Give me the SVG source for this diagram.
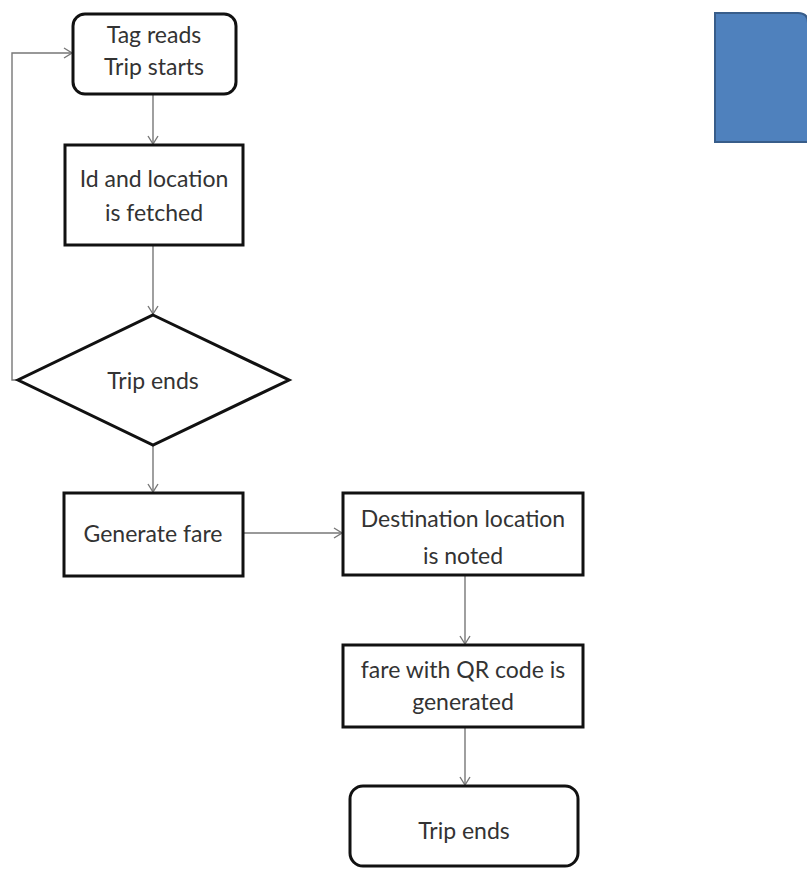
<svg xmlns="http://www.w3.org/2000/svg" width="807" height="876" viewBox="0 0 807 876">
<style>
.box{fill:#fff;stroke:#111;stroke-width:3}
.t{font-family:Lato,"Open Sans","Liberation Sans",sans-serif;font-size:23px;fill:#333;text-anchor:middle}
.c{fill:none;stroke:#777;stroke-width:1.4}
</style>
<defs>
<marker id="ah" markerWidth="12" markerHeight="12" refX="10" refY="6" orient="auto" markerUnits="userSpaceOnUse">
<path d="M2,1 L10,6 L2,11" fill="none" stroke="#777" stroke-width="1.4"/>
</marker>
</defs>
<rect width="807" height="876" fill="#fff"/>
<g id="connectors">
<path class="c" d="M153,94 V144" marker-end="url(#ah)"/>
<path class="c" d="M153,245 V314" marker-end="url(#ah)"/>
<path class="c" d="M18,380 H12 V53 H72" marker-end="url(#ah)"/>
<path class="c" d="M153,445 V492" marker-end="url(#ah)"/>
<path class="c" d="M243,533 H342" marker-end="url(#ah)"/>
<path class="c" d="M465,575 V644" marker-end="url(#ah)"/>
<path class="c" d="M465,727 V785" marker-end="url(#ah)"/>
</g>
<g id="n1">
<rect class="box" x="73" y="14" width="163" height="80" rx="12"/>
<text class="t" x="154" y="43">Tag reads</text>
<text class="t" x="154" y="75">Trip starts</text>
</g>
<g id="n2">
<rect class="box" x="65" y="145" width="178" height="100"/>
<text class="t" x="154" y="187">Id and location</text>
<text class="t" x="154" y="221">is fetched</text>
</g>
<g id="n3">
<polygon class="box" points="153,315 289,380 153,445 18,380"/>
<text class="t" x="153" y="389">Trip ends</text>
</g>
<g id="n4">
<rect class="box" x="64" y="493" width="179" height="83"/>
<text class="t" x="153" y="542">Generate fare</text>
</g>
<g id="n5">
<rect class="box" x="343" y="493" width="240" height="82"/>
<text class="t" x="463" y="527">Destination location</text>
<text class="t" x="463" y="564">is noted</text>
</g>
<g id="n6">
<rect class="box" x="343" y="645" width="240" height="82"/>
<text class="t" x="463" y="678">fare with QR code is</text>
<text class="t" x="463" y="710">generated</text>
</g>
<g id="n7">
<rect class="box" x="350" y="786" width="228" height="80" rx="13"/>
<text class="t" x="464" y="839">Trip ends</text>
</g>
<g id="blue">
<path d="M715,13 H798 Q808,13 808,23 V142 H715 Z" fill="#4f81bd" stroke="#385d8a" stroke-width="2"/>
</g>
</svg>
